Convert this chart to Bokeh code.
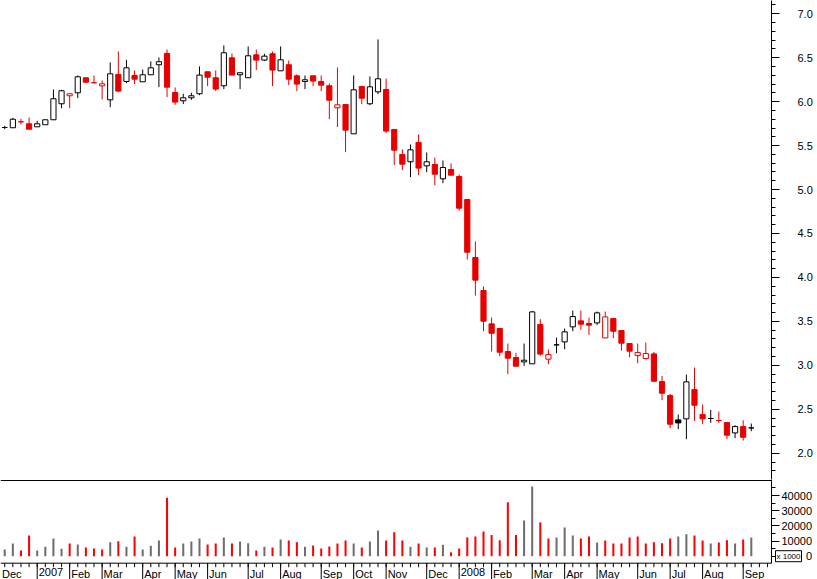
from bokeh.plotting import figure
from bokeh.models import (Range1d, FixedTicker, SingleIntervalTicker, PrintfTickFormatter,
                          Span, ColumnDataSource)
from bokeh.core.properties import value
from bokeh.layouts import column
from bokeh.embed import file_html
from bokeh.resources import INLINE

# ---------------- data (weekly bars, Dec 2006 - Sep 2008) ----------------
opens = [5.706, 5.703, 5.771, 5.748, 5.714, 5.737, 5.794, 5.976, 6.067, 6.101,
         6.272, 6.215, 6.180, 6.021, 6.310, 6.230, 6.298, 6.226, 6.306, 6.420,
         6.549, 6.105, 6.010, 6.044, 6.090, 6.340, 6.272, 6.181, 6.499, 6.306,
         6.272, 6.533, 6.473, 6.545, 6.351, 6.420, 6.294, 6.230, 6.294, 6.230,
         6.181, 5.930, 5.968, 5.634, 6.173, 5.976, 6.112, 6.139, 5.684, 5.399,
         5.316, 5.536, 5.270, 5.285, 5.122, 5.228, 5.149, 4.887, 4.227, 3.851,
         3.472, 3.419, 3.157, 3.089, 3.039, 3.017, 3.464, 3.070, 3.233, 3.267,
         3.438, 3.506, 3.476, 3.483, 3.312, 3.532, 3.396, 3.248, 3.111, 3.077,
         3.130, 2.815, 2.656, 2.379, 2.391, 2.724, 2.440, 2.395, 2.372, 2.349,
         2.231, 2.303, 2.288]
highs = [5.725, 5.816, 5.805, 5.820, 5.782, 5.794, 6.139, 6.135, 6.090, 6.298,
         6.272, 6.298, 6.241, 6.446, 6.571, 6.476, 6.355, 6.366, 6.458, 6.503,
         6.594, 6.162, 6.090, 6.101, 6.401, 6.340, 6.355, 6.640, 6.549, 6.329,
         6.628, 6.594, 6.545, 6.571, 6.628, 6.469, 6.310, 6.298, 6.294, 6.298,
         6.207, 6.389, 5.968, 6.298, 6.173, 6.287, 6.708, 6.264, 5.684, 5.456,
         5.513, 5.627, 5.422, 5.365, 5.331, 5.297, 5.171, 4.887, 4.409, 3.897,
         3.544, 3.419, 3.248, 3.142, 3.248, 3.620, 3.525, 3.180, 3.316, 3.419,
         3.623, 3.623, 3.544, 3.612, 3.612, 3.532, 3.396, 3.248, 3.248, 3.259,
         3.153, 2.880, 2.675, 2.440, 2.895, 2.975, 2.554, 2.493, 2.474, 2.356,
         2.318, 2.375, 2.338]
lows = [5.687, 5.700, 5.740, 5.687, 5.714, 5.737, 5.794, 5.926, 5.926, 6.040,
        6.211, 6.215, 6.025, 5.938, 6.108, 6.211, 6.200, 6.226, 6.306, 6.165,
        6.052, 5.964, 5.972, 6.021, 6.074, 6.177, 6.120, 6.143, 6.302, 6.143,
        6.272, 6.359, 6.461, 6.177, 6.351, 6.188, 6.120, 6.143, 6.177, 6.120,
        5.801, 5.710, 5.426, 5.634, 5.972, 5.960, 6.086, 5.642, 5.278, 5.221,
        5.141, 5.164, 5.198, 5.050, 5.073, 5.164, 4.762, 4.204, 3.794, 3.388,
        3.157, 3.104, 2.899, 2.990, 2.994, 3.017, 3.108, 3.013, 3.138, 3.183,
        3.388, 3.403, 3.347, 3.460, 3.312, 3.309, 3.168, 3.092, 3.024, 3.066,
        2.819, 2.603, 2.284, 2.273, 2.159, 2.368, 2.330, 2.345, 2.345, 2.159,
        2.171, 2.144, 2.250]
closes = [5.706, 5.800, 5.771, 5.687, 5.748, 5.794, 6.033, 6.124, 6.090, 6.283,
          6.222, 6.215, 6.203, 6.317, 6.120, 6.385, 6.256, 6.306, 6.385, 6.454,
          6.165, 5.995, 6.044, 6.067, 6.302, 6.279, 6.143, 6.556, 6.302, 6.329,
          6.522, 6.473, 6.518, 6.359, 6.476, 6.256, 6.200, 6.249, 6.234, 6.188,
          6.017, 5.964, 5.676, 6.135, 6.040, 6.169, 6.260, 5.665, 5.448, 5.289,
          5.452, 5.244, 5.316, 5.175, 5.251, 5.164, 4.788, 4.287, 3.969, 3.502,
          3.365, 3.149, 3.081, 2.990, 3.058, 3.608, 3.128, 3.122, 3.233, 3.381,
          3.555, 3.468, 3.457, 3.597, 3.551, 3.388, 3.252, 3.161, 3.145, 3.134,
          2.819, 2.683, 2.330, 2.345, 2.812, 2.546, 2.391, 2.395, 2.372, 2.205,
          2.303, 2.182, 2.288]
volumes = [4400, 8370, 3760, 13650, 3760, 6190, 11670, 4860, 8370, 7710,
           5730, 5070, 4420, 9230, 9890, 6190, 12990, 4420, 6850, 10350,
           38500, 5730, 8370, 9690, 11670, 7710, 8370, 12330, 8370, 9690,
           8570, 3760, 6190, 5730, 11010, 10350, 9230, 6190, 7050, 5070,
           6390, 8370, 10350, 8370, 5730, 9690, 16940, 10350, 15820, 10350,
           6190, 8370, 5730, 5730, 7500, 2550, 5100, 12400, 12990, 16280,
           14000, 10500, 35500, 14000, 23530, 45950, 22300, 11670, 12330, 18920,
           13650, 11670, 12990, 9030, 10350, 8370, 8370, 12330, 12990, 8370,
           9230, 8570, 11670, 12990, 14500, 13650, 10350, 8370, 9030, 10550,
           8370, 11010, 12330]
month_pos = [-1, 4, 8, 12, 17, 21, 25, 30, 34, 39, 43, 47, 52, 56, 60, 65, 69, 73, 78, 82, 86, 91]
month_labels = ["Dec", "2007", "Feb", "Mar", "Apr", "May", "Jun", "Jul", "Aug", "Sep", "Oct",
                "Nov", "Dec", "2008", "Feb", "Mar", "Apr", "May", "Jun", "Jul", "Aug", "Sep"]
week_ticks = list(range(-1, 95))
vol_ticks = [0, 10000, 20000, 30000, 40000]
vol_minor = [5000, 15000, 25000, 35000, 45000]
vol_unit_label = "x 1000"

# ---------------- styling / layout ----------------
FONT = "Liberation Sans"
RED = "#e60000"
VRED = "#ff0000"
VGRAY = "#6e6e6e"
W = 817
BORDER_R = 46
PRICE_H = 479
VOL_H = 100
PRICE_LO, PRICE_HI = 1.701, 7.151
VOL_LO, VOL_HI = -15360, 50560      # volume panel range incl. date-axis strip
AXIS_LEVEL = -4614                   # where the date axis line sits
UNITS_PER_PX = (VOL_HI - VOL_LO) / VOL_H

n = len(closes)
idx = list(range(n))
col, fill, vcol, top, bot = [], [], [], [], []
for i in range(n):
    down = i > 0 and closes[i] < closes[i - 1]
    c = RED if down else "black"
    col.append(c)
    fill.append(c if closes[i] < opens[i] else "white")
    vcol.append(VRED if down else VGRAY)
    top.append(max(opens[i], closes[i]))
    bot.append(min(opens[i], closes[i]))

src = ColumnDataSource(dict(x=idx, h=highs, l=lows, top=top, bot=bot,
                            col=col, fill=fill, vol=volumes, vcol=vcol))

xr = Range1d(-0.5225, 94.49)


def style_axis(a, tick_out, standoff):
    a.major_tick_out = tick_out
    a.major_tick_in = 0
    a.minor_tick_out = 4
    a.minor_tick_in = 0
    a.major_label_standoff = standoff
    a.major_label_text_font = FONT
    a.major_label_text_font_size = "11px"
    a.major_label_text_color = "black"
    a.axis_line_color = "black"
    a.major_tick_line_color = "black"
    a.minor_tick_line_color = "black"


# ---------------- price panel ----------------
p = figure(width=W, height=PRICE_H, x_range=xr, y_range=Range1d(PRICE_LO, PRICE_HI),
           toolbar_location=None, output_backend="svg",
           x_axis_location=None, y_axis_location="right",
           min_border_left=0, min_border_top=0, min_border_bottom=0, min_border_right=BORDER_R,
           outline_line_color=None)
p.grid.visible = False
ax = p.yaxis[0]
ax.ticker = SingleIntervalTicker(interval=0.5, num_minor_ticks=5)
ax.formatter = PrintfTickFormatter(format="%.1f")
style_axis(ax, 8, 18)

p.segment(x0="x", y0="l", x1="x", y1="h", line_color="col", line_width=1, source=src)
p.vbar(x="x", width=0.64, top="top", bottom="bot", fill_color="fill",
       line_color="col", line_width=1, source=src)

# ---------------- volume panel ----------------
v = figure(width=W, height=VOL_H, x_range=xr, y_range=Range1d(VOL_LO, VOL_HI),
           toolbar_location=None, output_backend="svg",
           x_axis_location=None, y_axis_location="right",
           min_border_left=0, min_border_top=0, min_border_bottom=0, min_border_right=BORDER_R,
           outline_line_color=None)
v.grid.visible = False
v.vbar(x="x", width=0.25, top="vol", bottom=0, fill_color="vcol", line_color=None, source=src)

ya = v.yaxis[0]
ya.ticker = FixedTicker(ticks=vol_ticks, minor_ticks=vol_minor)
ya.major_label_overrides = {0: "\u2007\u2007\u2007\u20070"}
ya.bounds = (AXIS_LEVEL, VOL_HI)
style_axis(ya, 8, 2)

# separator between the two panels
v.add_layout(Span(location=VOL_HI - 1.0 * UNITS_PER_PX, dimension="width",
                  line_color="black", line_width=1))

# date axis strip (line, weekly ticks, month ticks and labels)
v.add_layout(Span(location=AXIS_LEVEL, dimension="width", line_color="black", line_width=1))
v.segment(x0=week_ticks, x1=week_ticks, y0=[AXIS_LEVEL] * len(week_ticks),
          y1=[AXIS_LEVEL - 4 * UNITS_PER_PX] * len(week_ticks), line_color="black", line_width=1)
v.segment(x0=month_pos, x1=month_pos, y0=[AXIS_LEVEL] * len(month_pos),
          y1=[VOL_LO] * len(month_pos), line_color="black", line_width=1)
label_x = [max(m, xr.start) for m in month_pos]   # keep the first label inside the frame
v.text(x=label_x, y=[AXIS_LEVEL] * len(month_pos), text=month_labels,
       x_offset=1.5, y_offset=5, text_baseline="top", text_align="left",
       text_font=value(FONT), text_font_size=value("11px"), text_color="black")

# volume unit box next to the zero tick
unit = v.text(x=[xr.end], y=[0], text=[vol_unit_label], x_offset=4, text_baseline="middle",
              text_align="left", text_font=value(FONT), text_font_size=value("8px"),
              text_color="black", level="overlay")
try:
    unit.glyph.border_line_color = "black"
    unit.glyph.background_fill_color = "white"
    unit.glyph.padding = 1
except Exception:
    pass

layout = column(p, v, spacing=0)
open("out.html", "w").write(file_html(layout, INLINE))
